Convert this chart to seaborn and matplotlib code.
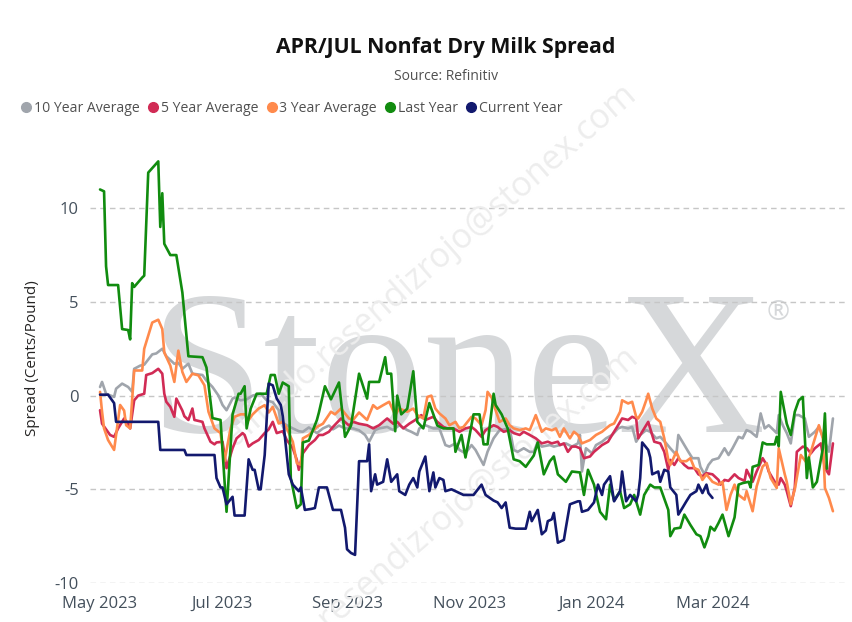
import numpy as np
import pandas as pd
import matplotlib
matplotlib.use("Agg")
import matplotlib.pyplot as plt
from matplotlib.lines import Line2D
import seaborn as sns

# ---------------------------------------------------------
# data (cents / pound)
# ---------------------------------------------------------
series_names = ["10 Year Average", "5 Year Average", "3 Year Average", "Last Year", "Current Year"]
series_colors = ["#A0A5AC", "#D12B55", "#FF8A4C", "#118C0F", "#12196E"]

gray_dates = ["2023-05-01","2023-05-02","2023-05-04","2023-05-08","2023-05-09","2023-05-12","2023-05-15","2023-05-17","2023-05-18","2023-05-21","2023-05-23","2023-05-27","2023-05-29","2023-06-01","2023-06-03","2023-06-07","2023-06-09","2023-06-11","2023-06-14","2023-06-16","2023-06-21","2023-06-23","2023-06-26","2023-06-29","2023-07-01","2023-07-03","2023-07-06","2023-07-07","2023-07-10","2023-07-13","2023-07-16","2023-07-20","2023-07-23","2023-07-26","2023-07-29","2023-07-30","2023-08-02","2023-08-05","2023-08-08","2023-08-10","2023-08-13","2023-08-17","2023-08-20","2023-08-23","2023-08-25","2023-08-28","2023-08-31","2023-09-04","2023-09-07","2023-09-10","2023-09-12","2023-09-15","2023-09-17","2023-09-21","2023-09-24","2023-09-27","2023-10-01","2023-10-03","2023-10-06","2023-10-07","2023-10-10","2023-10-14","2023-10-17","2023-10-20","2023-10-22","2023-10-25","2023-10-27","2023-10-30","2023-11-02","2023-11-04","2023-11-07","2023-11-08","2023-11-10","2023-11-13","2023-11-16","2023-11-21","2023-11-23","2023-11-25","2023-11-28","2023-12-01","2023-12-03","2023-12-05","2023-12-07","2023-12-11","2023-12-13","2023-12-16","2023-12-19","2023-12-22","2023-12-25","2023-12-26","2023-12-27","2023-12-29","2024-01-01","2024-01-03","2024-01-06","2024-01-08","2024-01-11","2024-01-14","2024-01-16","2024-01-19","2024-01-21","2024-01-23","2024-01-25","2024-01-28","2024-01-30","2024-02-02","2024-02-04","2024-02-07","2024-02-09","2024-02-12","2024-02-13","2024-02-16","2024-02-18","2024-02-20","2024-02-23","2024-02-24","2024-02-26","2024-02-28","2024-03-01","2024-03-04","2024-03-05","2024-03-07","2024-03-09","2024-03-11","2024-03-14","2024-03-16","2024-03-18","2024-03-20","2024-03-23","2024-03-25","2024-03-27","2024-03-29","2024-04-02","2024-04-03","2024-04-05","2024-04-07","2024-04-09","2024-04-11","2024-04-13","2024-04-16","2024-04-18","2024-04-21","2024-04-23","2024-04-26","2024-04-28","2024-04-30"]
gray_values = [0.46,0.73,0.1,-0.07,0.37,0.64,0.46,0.2,1.43,1.6,1.65,2.2,2.25,2.5,2.1,1.7,1.75,1.43,1.7,1.17,1.1,0.8,0.46,0.0,-0.5,-0.78,-0.16,-0.1,-0.25,-0.2,0.0,0.1,-0.25,-0.35,-0.78,-1.4,-1.58,-1.75,-1.9,-1.93,-1.7,-2.0,-1.75,-1.6,-1.8,-1.6,-1.75,-1.75,-1.85,-2.1,-2.46,-1.84,-1.75,-1.67,-1.84,-1.58,-1.84,-1.93,-2.1,-1.75,-1.58,-1.75,-1.75,-2.64,-2.72,-2.55,-2.9,-3.08,-2.64,-2.9,-3.5,-3.7,-2.99,-2.28,-1.84,-1.75,-2.9,-3.0,-2.81,-3.0,-3.0,-2.46,-2.72,-2.64,-2.72,-2.64,-2.55,-2.72,-2.55,-2.1,-4.05,-2.81,-3.08,-2.64,-2.46,-2.28,-2.1,-1.75,-1.67,-1.75,-1.67,-2.46,-2.1,-1.84,-1.93,-2.28,-2.2,-2.55,-2.81,-3.17,-2.1,-2.64,-3.0,-3.34,-3.34,-3.8,-4.2,-3.7,-3.43,-3.34,-3.17,-2.81,-3.17,-2.81,-2.2,-2.28,-1.84,-1.93,-2.2,-0.95,-1.75,-1.58,-2.0,-1.04,-1.58,-2.0,-2.55,-1.04,-1.04,-1.22,-2.2,-1.93,-1.67,-2.46,-2.99,-1.22]

red_dates = ["2023-05-01","2023-05-02","2023-05-06","2023-05-08","2023-05-10","2023-05-13","2023-05-15","2023-05-16","2023-05-18","2023-05-20","2023-05-23","2023-05-24","2023-05-27","2023-05-30","2023-06-01","2023-06-02","2023-06-03","2023-06-05","2023-06-07","2023-06-08","2023-06-11","2023-06-12","2023-06-14","2023-06-16","2023-06-17","2023-06-21","2023-06-22","2023-06-25","2023-06-27","2023-06-28","2023-07-01","2023-07-03","2023-07-06","2023-07-08","2023-07-11","2023-07-12","2023-07-14","2023-07-16","2023-07-19","2023-07-22","2023-07-24","2023-07-26","2023-07-28","2023-07-31","2023-08-02","2023-08-05","2023-08-07","2023-08-08","2023-08-10","2023-08-13","2023-08-16","2023-08-18","2023-08-20","2023-08-23","2023-08-25","2023-08-29","2023-09-02","2023-09-04","2023-09-07","2023-09-11","2023-09-14","2023-09-17","2023-09-21","2023-09-24","2023-09-26","2023-09-29","2023-10-02","2023-10-05","2023-10-08","2023-10-10","2023-10-14","2023-10-16","2023-10-19","2023-10-21","2023-10-24","2023-10-27","2023-10-30","2023-11-02","2023-11-04","2023-11-07","2023-11-09","2023-11-13","2023-11-15","2023-11-18","2023-11-21","2023-11-23","2023-11-26","2023-11-28","2023-12-01","2023-12-04","2023-12-07","2023-12-10","2023-12-12","2023-12-15","2023-12-16","2023-12-18","2023-12-20","2023-12-22","2023-12-24","2023-12-26","2023-12-28","2023-12-31","2024-01-02","2024-01-06","2024-01-09","2024-01-11","2024-01-14","2024-01-16","2024-01-19","2024-01-21","2024-01-23","2024-01-24","2024-01-27","2024-01-29","2024-01-30","2024-02-01","2024-02-04","2024-02-06","2024-02-08","2024-02-09","2024-02-11","2024-02-13","2024-02-16","2024-02-18","2024-02-21","2024-02-23","2024-02-25","2024-02-27","2024-03-01","2024-03-04","2024-03-05","2024-03-07","2024-03-09","2024-03-12","2024-03-14","2024-03-17","2024-03-18","2024-03-21","2024-03-23","2024-03-26","2024-03-28","2024-03-29","2024-04-01","2024-04-03","2024-04-04","2024-04-06","2024-04-07","2024-04-09","2024-04-11","2024-04-12","2024-04-15","2024-04-17","2024-04-19","2024-04-21","2024-04-24","2024-04-26","2024-04-28","2024-04-30"]
red_values = [-0.78,-1.5,-2.1,-2.2,-1.75,-1.22,-1.5,-1.75,-0.25,0.0,0.1,1.1,1.2,1.43,1.17,0.1,-0.33,-0.6,-1.13,-0.16,-0.8,-1.1,-1.3,-0.69,-1.3,-1.4,-1.75,-2.46,-2.6,-2.5,-2.46,-3.87,-2.81,-2.28,-2.0,-2.1,-2.72,-2.55,-2.37,-2.0,-1.8,-1.4,-2.0,-1.9,-2.37,-2.81,-3.43,-3.96,-3.08,-2.64,-2.37,-2.1,-2.1,-1.93,-1.67,-1.22,-1.6,-1.4,-1.5,-1.58,-1.75,-1.58,-1.22,-1.5,-1.4,-1.75,-1.5,-1.3,-1.04,-1.3,-1.13,-1.4,-1.67,-1.75,-1.75,-1.93,-1.75,-1.67,-1.84,-2.2,-1.84,-1.58,-1.67,-1.93,-1.84,-2.0,-2.1,-1.93,-2.1,-2.28,-2.55,-2.46,-2.55,-2.46,-2.64,-2.55,-3.0,-2.72,-2.72,-2.81,-3.34,-3.25,-3.0,-2.64,-2.46,-2.1,-1.58,-1.22,-1.3,-1.13,-1.22,-2.28,-1.75,-1.4,-1.75,-2.46,-2.55,-3.0,-3.96,-3.43,-3.7,-3.34,-3.7,-3.87,-3.87,-4.2,-4.3,-4.14,-4.2,-4.5,-4.75,-4.5,-4.55,-4.2,-4.4,-4.55,-3.96,-4.6,-4.05,-3.34,-3.7,-4.05,-4.6,-4.75,-4.4,-4.75,-5.1,-5.9,-4.9,-3.0,-2.72,-2.81,-3.08,-2.81,-2.55,-3.87,-4.2,-2.55]

orange_dates = ["2023-05-01","2023-05-02","2023-05-03","2023-05-05","2023-05-08","2023-05-09","2023-05-11","2023-05-13","2023-05-14","2023-05-16","2023-05-18","2023-05-22","2023-05-23","2023-05-25","2023-05-27","2023-05-30","2023-06-01","2023-06-02","2023-06-05","2023-06-07","2023-06-09","2023-06-11","2023-06-13","2023-06-16","2023-06-19","2023-06-22","2023-06-24","2023-06-27","2023-06-30","2023-07-02","2023-07-05","2023-07-07","2023-07-10","2023-07-12","2023-07-14","2023-07-16","2023-07-19","2023-07-22","2023-07-24","2023-07-26","2023-07-29","2023-07-31","2023-08-02","2023-08-05","2023-08-07","2023-08-09","2023-08-10","2023-08-13","2023-08-17","2023-08-20","2023-08-24","2023-08-26","2023-08-29","2023-09-02","2023-09-04","2023-09-07","2023-09-11","2023-09-14","2023-09-16","2023-09-19","2023-09-22","2023-09-25","2023-09-27","2023-10-01","2023-10-04","2023-10-06","2023-10-09","2023-10-11","2023-10-13","2023-10-15","2023-10-17","2023-10-20","2023-10-22","2023-10-25","2023-10-27","2023-10-29","2023-11-02","2023-11-04","2023-11-07","2023-11-09","2023-11-10","2023-11-12","2023-11-14","2023-11-16","2023-11-19","2023-11-21","2023-11-23","2023-11-26","2023-11-29","2023-12-01","2023-12-04","2023-12-07","2023-12-09","2023-12-12","2023-12-14","2023-12-16","2023-12-18","2023-12-21","2023-12-23","2023-12-25","2023-12-27","2023-12-31","2024-01-03","2024-01-06","2024-01-08","2024-01-10","2024-01-12","2024-01-15","2024-01-16","2024-01-19","2024-01-21","2024-01-23","2024-01-24","2024-01-26","2024-01-28","2024-01-29","2024-01-31","2024-02-02","2024-02-04","2024-02-06","2024-02-08","2024-02-09","2024-02-12","2024-02-14","2024-02-17","2024-02-19","2024-02-21","2024-02-23","2024-02-25","2024-02-27","2024-03-01","2024-03-04","2024-03-06","2024-03-08","2024-03-10","2024-03-12","2024-03-14","2024-03-17","2024-03-18","2024-03-21","2024-03-23","2024-03-26","2024-03-28","2024-03-30","2024-04-02","2024-04-03","2024-04-06","2024-04-07","2024-04-09","2024-04-11","2024-04-12","2024-04-14","2024-04-17","2024-04-19","2024-04-21","2024-04-23","2024-04-25","2024-04-26","2024-04-28","2024-04-30"]
orange_values = [0.2,-0.86,-1.75,-2.37,-2.9,-2.1,-0.5,-0.8,-1.58,-1.75,1.34,1.34,2.5,3.2,3.9,4.05,3.55,2.3,1.6,0.73,2.4,1.26,0.73,1.17,1.08,0.55,-0.86,-1.75,-2.0,-3.5,-1.75,-1.13,-1.0,-1.0,-1.3,-1.0,-0.69,-0.51,-0.9,-0.6,-1.49,-1.4,-1.75,-2.46,-3.6,-3.7,-2.28,-2.1,-1.67,-1.5,-0.86,-1.0,-0.69,-1.22,-1.3,-0.9,-1.3,-0.51,-0.7,-0.51,-0.33,-1.04,-0.69,-0.86,-0.69,-1.04,-1.22,-0.07,0.0,-0.69,-0.95,-1.22,-1.58,-1.4,-1.75,-1.67,-1.13,-1.22,-1.58,-0.78,0.2,-0.1,-0.78,-1.4,-1.22,-1.58,-1.75,-1.84,-1.75,-1.84,-1.04,-1.93,-1.75,-1.85,-1.75,-2.2,-1.75,-2.28,-1.93,-2.1,-2.55,-2.37,-2.1,-1.93,-1.75,-1.58,-1.49,-0.86,-0.25,-0.42,-0.33,-1.13,-1.22,-0.86,-0.25,0.1,-0.69,-1.22,-1.4,-2.28,-3.43,-3.7,-3.0,-3.5,-3.5,-3.34,-3.87,-3.96,-4.5,-4.2,-4.6,-4.75,-4.6,-6.1,-5.3,-4.75,-5.3,-5.55,-5.1,-6.17,-4.85,-3.78,-3.6,-4.4,-4.93,-2.81,-4.2,-4.6,-5.8,-5.0,-4.4,-3.17,-3.6,-3.0,-2.28,-1.58,-2.3,-4.93,-5.46,-6.17]

green_dates = ["2023-05-01","2023-05-03","2023-05-04","2023-05-05","2023-05-10","2023-05-12","2023-05-15","2023-05-16","2023-05-17","2023-05-18","2023-05-22","2023-05-23","2023-05-25","2023-05-30","2023-05-31","2023-06-01","2023-06-02","2023-06-05","2023-06-08","2023-06-11","2023-06-14","2023-06-21","2023-06-23","2023-06-26","2023-06-30","2023-07-03","2023-07-06","2023-07-09","2023-07-10","2023-07-12","2023-07-13","2023-07-15","2023-07-18","2023-07-23","2023-07-25","2023-07-27","2023-07-29","2023-07-31","2023-08-03","2023-08-04","2023-08-07","2023-08-09","2023-08-10","2023-08-13","2023-08-17","2023-08-18","2023-08-21","2023-08-24","2023-08-28","2023-08-31","2023-09-03","2023-09-07","2023-09-11","2023-09-12","2023-09-17","2023-09-20","2023-09-21","2023-09-23","2023-09-25","2023-09-26","2023-09-28","2023-10-01","2023-10-04","2023-10-06","2023-10-09","2023-10-12","2023-10-16","2023-10-19","2023-10-24","2023-10-25","2023-10-28","2023-10-30","2023-11-03","2023-11-06","2023-11-08","2023-11-10","2023-11-13","2023-11-14","2023-11-17","2023-11-20","2023-11-23","2023-11-26","2023-11-29","2023-12-03","2023-12-05","2023-12-08","2023-12-11","2023-12-13","2023-12-15","2023-12-19","2023-12-22","2023-12-26","2023-12-28","2023-12-30","2024-01-02","2024-01-05","2024-01-08","2024-01-10","2024-01-12","2024-01-15","2024-01-17","2024-01-20","2024-01-22","2024-01-25","2024-01-27","2024-01-30","2024-02-01","2024-02-04","2024-02-06","2024-02-08","2024-02-09","2024-02-11","2024-02-14","2024-02-16","2024-02-19","2024-02-22","2024-02-24","2024-02-26","2024-02-28","2024-02-29","2024-03-02","2024-03-04","2024-03-06","2024-03-09","2024-03-12","2024-03-14","2024-03-16","2024-03-19","2024-03-20","2024-03-21","2024-03-24","2024-03-26","2024-03-28","2024-04-01","2024-04-02","2024-04-03","2024-04-04","2024-04-07","2024-04-09","2024-04-11","2024-04-13","2024-04-15","2024-04-17","2024-04-18","2024-04-20","2024-04-22","2024-04-25","2024-04-26","2024-04-27"]
green_values = [11.0,10.9,6.9,5.9,5.9,3.55,3.5,3.0,6.0,5.8,6.3,6.4,11.9,12.5,9.0,10.8,8.1,7.5,7.5,5.5,2.1,2.05,1.5,-1.2,-1.3,-6.2,-1.0,0.1,0.1,0.5,-1.75,-0.7,0.1,0.1,1.1,1.1,0.1,0.7,0.5,-4.4,-6.0,-5.8,-2.5,-2.4,-1.3,-0.9,0.5,-0.2,0.7,-2.2,-1.6,1.17,-0.16,0.73,0.73,2.05,1.17,1.17,-1.9,0.0,-1.0,-0.7,1.3,-1.4,-1.75,-0.4,-1.6,-1.75,-1.75,-3.0,-2.1,-3.3,-1.0,-1.0,-2.6,-2.6,0.1,-0.5,-1.0,-1.75,-3.4,-3.5,-3.8,-3.2,-2.5,-4.2,-3.5,-3.25,-4.2,-4.6,-4.05,-4.1,-5.3,-3.96,-4.75,-6.2,-6.6,-4.75,-5.6,-5.1,-6.0,-5.8,-5.3,-6.35,-5.3,-4.75,-4.9,-4.9,-5.5,-6.1,-7.5,-7.1,-7.05,-6.35,-6.9,-7.4,-7.5,-8.1,-7.5,-7.0,-7.2,-6.8,-6.35,-7.5,-6.5,-4.75,-4.67,-4.6,-4.9,-3.8,-3.7,-2.5,-2.6,-2.6,-2.2,-2.7,0.2,-1.5,-2.1,-0.86,-0.25,-0.07,-4.4,-3.3,-4.9,-4.6,-2.8,-0.95,-3.9]

navy_dates = ["2023-05-01","2023-05-05","2023-05-08","2023-05-09","2023-05-30","2023-05-31","2023-06-12","2023-06-13","2023-06-27","2023-06-28","2023-06-30","2023-07-01","2023-07-03","2023-07-06","2023-07-07","2023-07-12","2023-07-14","2023-07-16","2023-07-17","2023-07-19","2023-07-20","2023-07-22","2023-07-24","2023-07-26","2023-07-28","2023-07-30","2023-07-31","2023-08-03","2023-08-05","2023-08-08","2023-08-09","2023-08-11","2023-08-14","2023-08-16","2023-08-18","2023-08-22","2023-08-25","2023-08-29","2023-08-31","2023-09-01","2023-09-03","2023-09-05","2023-09-07","2023-09-11","2023-09-12","2023-09-13","2023-09-15","2023-09-16","2023-09-19","2023-09-21","2023-09-23","2023-09-26","2023-09-27","2023-09-30","2023-10-02","2023-10-04","2023-10-06","2023-10-07","2023-10-10","2023-10-12","2023-10-14","2023-10-15","2023-10-17","2023-10-19","2023-10-20","2023-10-23","2023-10-25","2023-10-29","2023-11-03","2023-11-07","2023-11-09","2023-11-13","2023-11-15","2023-11-17","2023-11-19","2023-11-21","2023-11-24","2023-11-29","2023-12-01","2023-12-02","2023-12-05","2023-12-07","2023-12-09","2023-12-10","2023-12-12","2023-12-13","2023-12-15","2023-12-18","2023-12-19","2023-12-21","2023-12-25","2023-12-26","2023-12-27","2023-12-30","2024-01-02","2024-01-04","2024-01-06","2024-01-07","2024-01-10","2024-01-12","2024-01-15","2024-01-16","2024-01-18","2024-01-20","2024-01-23","2024-01-24","2024-01-25","2024-01-26","2024-01-29","2024-01-30","2024-01-31","2024-02-03","2024-02-04","2024-02-06","2024-02-08","2024-02-09","2024-02-12","2024-02-13","2024-02-15","2024-02-17","2024-02-19","2024-02-22","2024-02-23","2024-02-25","2024-02-27","2024-02-28","2024-03-01"]
navy_values = [0.05,0.05,-0.4,-1.4,-1.4,-2.9,-2.9,-3.17,-3.17,-4.4,-4.9,-4.9,-5.8,-5.4,-6.4,-6.4,-3.4,-3.96,-3.96,-5.0,-5.0,-3.17,0.64,0.55,-0.16,-0.5,-1.1,-4.2,-4.75,-5.1,-4.9,-6.1,-6.05,-6.0,-4.9,-4.9,-6.1,-6.1,-7.05,-8.2,-8.4,-8.5,-3.5,-3.5,-2.6,-5.1,-4.2,-4.75,-4.6,-3.4,-4.6,-4.2,-5.1,-5.3,-4.75,-4.4,-4.9,-4.05,-3.25,-5.1,-4.1,-4.9,-4.4,-4.5,-5.1,-5.0,-5.1,-5.3,-5.3,-4.75,-5.3,-5.6,-5.7,-6.0,-5.7,-7.05,-7.1,-7.1,-6.2,-6.7,-6.1,-7.4,-7.2,-6.7,-6.6,-6.26,-7.85,-7.7,-7.05,-5.8,-5.64,-5.64,-6.2,-6.1,-5.7,-4.75,-5.3,-4.75,-4.3,-5.64,-5.1,-4.05,-5.64,-5.3,-5.64,-5.3,-4.4,-2.5,-2.9,-3.3,-4.2,-4.05,-4.6,-3.96,-4.05,-4.9,-5.3,-6.35,-6.0,-5.64,-5.3,-5.1,-4.75,-5.2,-4.75,-5.2,-5.46]

tick_dates = ["2023-05-01", "2023-07-01", "2023-09-01", "2023-11-01", "2024-01-01", "2024-03-01"]
tick_labels = ["May 2023", "Jul 2023", "Sep 2023", "Nov 2023", "Jan 2024", "Mar 2024"]
y_ticks = [-10, -5, 0, 5, 10]

# ---------------------------------------------------------
# long table for seaborn
# ---------------------------------------------------------
frames = []
for name, d, v in zip(series_names,
                      [gray_dates, red_dates, orange_dates, green_dates, navy_dates],
                      [gray_values, red_values, orange_values, green_values, navy_values]):
    frames.append(pd.DataFrame({"Date": pd.to_datetime(d), "Spread": v, "Series": name}))
df = pd.concat(frames, ignore_index=True)

sns.set_style("white")
plt.rcParams["font.family"] = ["Open Sans", "DejaVu Sans"]

W, H = 852, 622
fig = plt.figure(figsize=(W / 100, H / 100), dpi=100)
ax = fig.add_axes([90 / W, 1 - 583 / H, 757 / W, (583 - 152) / H])

tick_col = "#44505C"
wm_col = "#D6D8DA"

# StoneX watermark behind the lines
ax.text(458 / W, 1 - 432 / H, "StoneX", transform=fig.transFigure, ha="center", va="baseline",
        fontsize=148, family="Liberation Serif", color=wm_col, zorder=0)
ax.text(778 / W, 1 - 313 / H, "\u00ae", transform=fig.transFigure, ha="center", va="center",
        fontsize=20, color=wm_col, zorder=0)

# faint diagonal e-mail watermark (also behind the lines)
mark = "alfredo.resendizrojo@stonex.com"
for cx, cy in [(430, 265), (432, 528)]:
    ax.text(cx / W, 1 - cy / H, mark, transform=fig.transFigure, rotation=41,
            rotation_mode="anchor", ha="center", va="center", fontsize=24.5,
            color="#EDEDED", zorder=1, clip_on=False)

sns.lineplot(data=df, x="Date", y="Spread", hue="Series", hue_order=series_names,
             palette=dict(zip(series_names, series_colors)), linewidth=1.9,
             estimator=None, sort=False, legend=False, ax=ax, zorder=3)

ax.set_ylim(-10, 13)
ax.set_xlim(pd.Timestamp("2023-04-26"), pd.Timestamp("2024-05-07"))
ax.set_yticks(y_ticks)
ax.set_yticklabels([str(t) for t in y_ticks])
ax.set_xticks(pd.to_datetime(tick_dates))
ax.set_xticklabels(tick_labels)
ax.tick_params(axis="both", length=0, labelsize=12, colors=tick_col)
ax.tick_params(axis="y", pad=8)
ax.tick_params(axis="x", pad=9)
ax.set_xlabel("")
ax.set_ylabel("")
for s in ax.spines.values():
    s.set_visible(False)
ax.grid(axis="y", color="#C6C6C6", linewidth=1.0, linestyle=(0, (4, 3)))
ax.grid(axis="x", visible=False)
ax.set_facecolor("none")

fig.text(33 / W, 1 - 358 / H, "Spread (Cents/Pound)", rotation=90, ha="center", va="center",
         fontsize=11, color="#252423")

fig.text(446 / W, 1 - 47 / H, "APR/JUL Nonfat Dry Milk Spread", ha="center", va="center",
         fontsize=15.3, fontweight="bold", color="#111111")
fig.text(446 / W, 1 - 77 / H, "Source: Refinitiv", ha="center", va="center",
         fontsize=10, color="#505050")

handles = [Line2D([], [], marker="o", linestyle="none", markersize=7,
                  markerfacecolor=c, markeredgecolor=c) for c in series_colors]
fig.legend(handles, series_names, loc="center left", bbox_to_anchor=(22 / W, 1 - 108 / H),
           ncol=5, frameon=False, fontsize=10.1, handlelength=0.6, handletextpad=0.25,
           columnspacing=0.65, borderpad=0, borderaxespad=0, labelcolor="#505050")

fig.savefig("out.png", dpi=100, facecolor="white")
